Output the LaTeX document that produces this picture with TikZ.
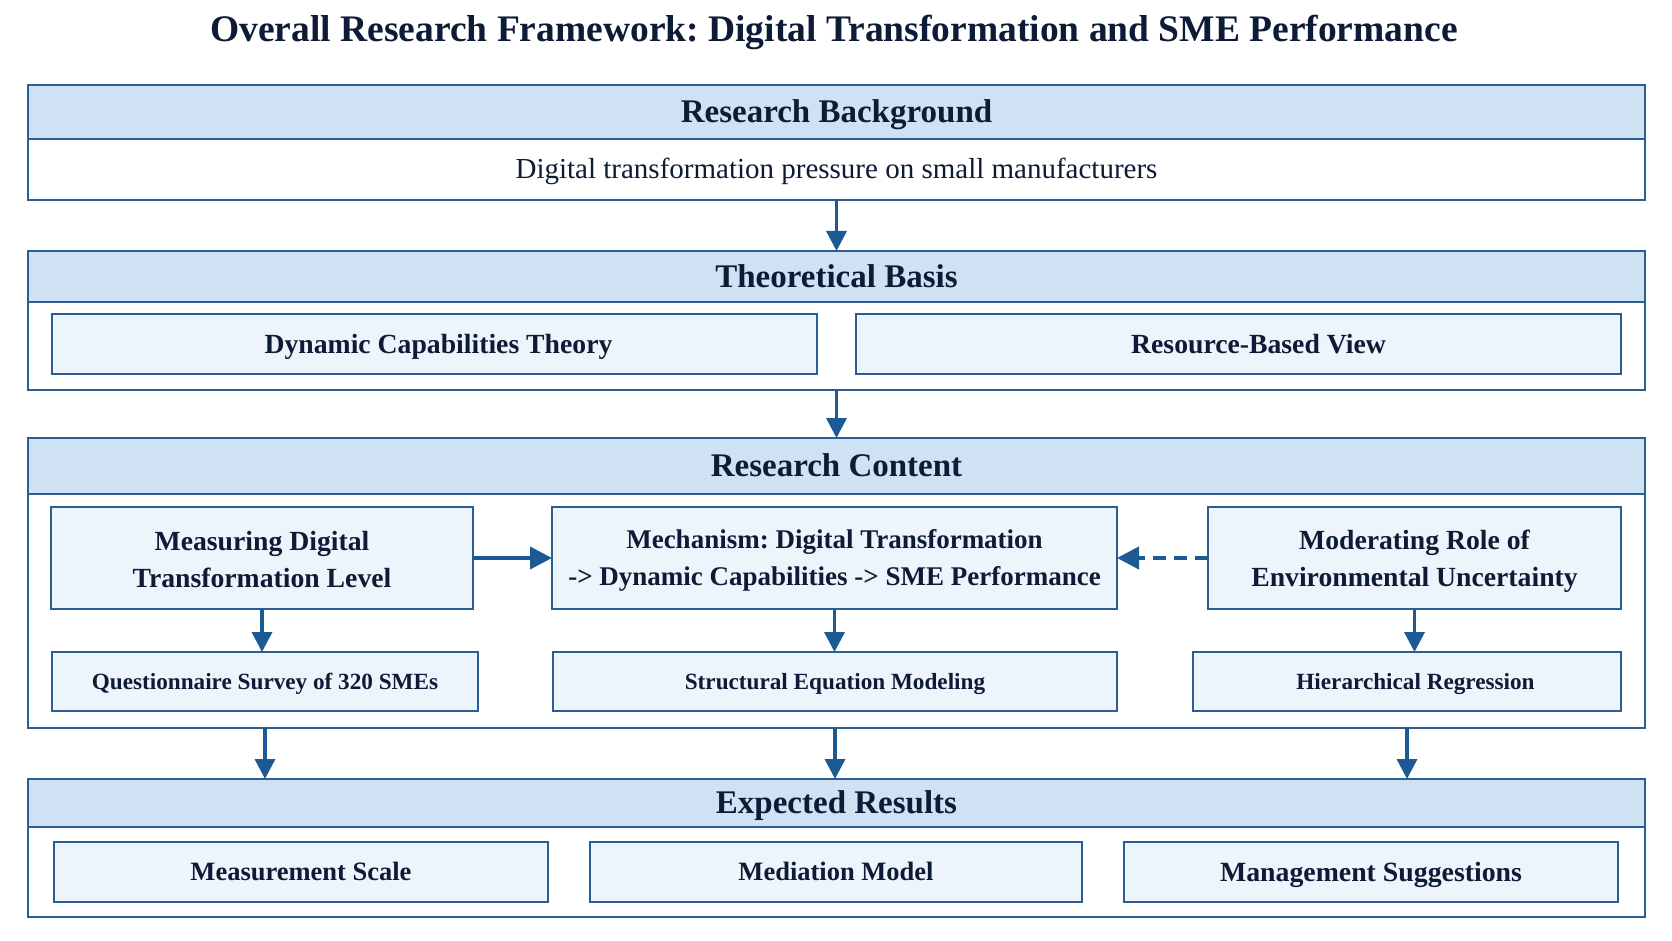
\documentclass[tikz,border=0pt]{standalone}
\usepackage{fontspec}
\setmainfont{Liberation Serif}
\usetikzlibrary{arrows.meta}
\definecolor{frameblue}{HTML}{2B5F93}
\definecolor{arrowblue}{HTML}{1C5A94}
\definecolor{headfill}{HTML}{CFE2F3}
\definecolor{innerfill}{HTML}{EEF4FB}
\definecolor{navy}{HTML}{0E1B36}
\tikzset{
  frame/.style={draw=frameblue, line width=2pt, fill=white, inner sep=0pt, outer sep=0pt},
  header/.style={draw=frameblue, line width=2pt, fill=headfill, inner sep=0pt, outer sep=0pt, text=navy, font=\fontsize{33}{36}\selectfont\bfseries, text height=21.8pt, text depth=0pt},
  inbox/.style={draw=frameblue, line width=2pt, fill=innerfill, inner sep=0pt, outer sep=0pt, text=navy, align=center},
  bigtxt/.style={font=\fontsize{27.7}{37}\selectfont\bfseries},
  onebig/.style={font=\fontsize{27.7}{37}\selectfont\bfseries, text height=18.3pt, text depth=0pt},
  midtxt/.style={font=\fontsize{26.5}{30}\selectfont\bfseries, text height=17.5pt, text depth=0pt},
  smalltxt/.style={font=\fontsize{23.2}{27}\selectfont\bfseries, text height=15.3pt, text depth=0pt},
  flow/.style={draw=arrowblue, line width=3.5pt, -{Triangle[length=20pt,width=20pt]}},
  flowh/.style={draw=arrowblue, line width=4pt, -{Triangle[length=22pt,width=22pt]}},
}
\begin{document}
\frenchspacing
\begin{tikzpicture}[x=1pt,y=-1pt]
\useasboundingbox (0,0) rectangle (1672,941);
\fill[white] (0,0) rectangle (1672,941);
% title
\node[text=navy, font=\fontsize{37.5}{40}\selectfont\bfseries, text height=24.8pt, text depth=0pt] (title) at (834,29.5) {Overall Research Framework: Digital Transformation and SME Performance};
% box 1
\node[frame, minimum width=1617pt, minimum height=115pt] (b1) at (836.5,142.5) {};
\node[header, minimum width=1617pt, minimum height=54pt] (h1) at (836.5,112) {Research Background};
\node[text=navy, font=\fontsize{29}{32}\selectfont, text height=19.2pt, text depth=0pt] (t1) at (836.5,169) {Digital transformation pressure on small manufacturers};
% box 2
\node[frame, minimum width=1617pt, minimum height=139pt] (b2) at (836.5,320.5) {};
\node[header, minimum width=1617pt, minimum height=51pt] (h2) at (836.5,276.5) {Theoretical Basis};
\node[inbox, onebig, minimum width=765pt, minimum height=60pt] (dct) at (434.5,344) {\hspace*{8pt}Dynamic Capabilities Theory};
\node[inbox, onebig, minimum width=765pt, minimum height=60pt] (rbv) at (1238.5,344) {\hspace*{40pt}Resource-Based View};
% box 3
\node[frame, minimum width=1617pt, minimum height=290pt] (b3) at (836.5,583) {};
\node[header, minimum width=1617pt, minimum height=56pt] (h3) at (836.5,466) {Research Content};
\node[inbox, minimum width=422pt, minimum height=102pt] (meas) at (262,558) {};
\node[text=navy, bigtxt, align=center, yshift=-1.5pt] (measT) at (meas.center) {Measuring Digital\\Transformation Level};
\node[inbox, minimum width=565pt, minimum height=102pt] (mech) at (834.5,558) {};
\node[text=navy, font=\fontsize{27}{37}\selectfont\bfseries, align=center, yshift=-2.5pt] (mechT) at (mech.center) {Mechanism: Digital Transformation\\-> Dynamic Capabilities -> SME Performance};
\node[inbox, minimum width=413pt, minimum height=102pt] (mod) at (1414.5,558) {};
\node[text=navy, bigtxt, align=center, yshift=-3pt] (modT) at (mod.center) {Moderating Role of\\Environmental Uncertainty};
\node[inbox, smalltxt, minimum width=426pt, minimum height=59pt] (qs) at (265,681.5) {Questionnaire Survey of 320 SMEs};
\node[inbox, smalltxt, minimum width=564pt, minimum height=59pt] (sem) at (835,681.5) {Structural Equation Modeling};
\node[inbox, smalltxt, minimum width=428pt, minimum height=59pt] (hr) at (1407,681.5) {\hspace*{17pt}Hierarchical Regression};
% box 4
\node[frame, minimum width=1617pt, minimum height=138pt] (b4) at (836.5,848) {};
\node[header, minimum width=1617pt, minimum height=48pt] (h4) at (836.5,803) {Expected Results};
\node[inbox, midtxt, minimum width=494pt, minimum height=60pt] (ms) at (301,872) {Measurement Scale};
\node[inbox, midtxt, minimum width=492pt, minimum height=60pt] (mm) at (836,872) {Mediation Model};
\node[inbox, midtxt, font=\fontsize{27.8}{30}\selectfont\bfseries, text height=18.4pt, minimum width=494pt, minimum height=60pt] (mgs) at (1371,872) {Management Suggestions};
% arrows
\draw[flow] (b1.south) -- (b2.north);
\draw[flow] (b2.south) -- (b3.north);
\draw[flowh] (meas.east) -- (mech.west);
\draw[flowh, dash pattern=on 13pt off 8pt] (mod.west) -- (mech.east);
\draw[flow] (meas.south) -- (meas.south |- qs.north);
\draw[flow] (mech.south) -- (mech.south |- sem.north);
\draw[flow] (mod.south) -- (mod.south |- hr.north);
\draw[flow] (qs.center |- b3.south) -- (qs.center |- b4.north);
\draw[flow] (sem.center |- b3.south) -- (sem.center |- b4.north);
\draw[flow] (hr.center |- b3.south) -- (hr.center |- b4.north);
\end{tikzpicture}
\end{document}
